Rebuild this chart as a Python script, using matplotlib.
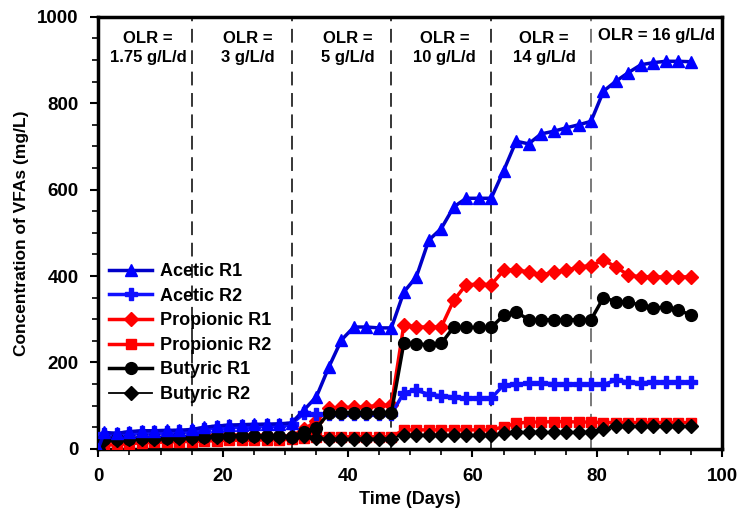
import numpy as np
import matplotlib
matplotlib.use("Agg")
import matplotlib.pyplot as plt
from matplotlib.ticker import MultipleLocator

plt.rcParams['font.family'] = ['Liberation Sans', 'DejaVu Sans']
plt.rcParams['font.weight'] = 'bold'

# sampling days: 0, then every 2 days from 1 to 95
days = [0] + list(range(1, 96, 2))

acetic_r1 = [0, 38, 36, 40, 42, 42, 43, 43, 45, 50, 53, 55, 56, 57, 57, 58,
             60, 90, 121, 190, 252, 282, 282, 280, 280, 363, 398, 483, 510, 560,
             580, 580, 580, 644, 712, 706, 729, 735, 743, 750, 758, 828, 851,
             871, 889, 894, 897, 897, 896]
acetic_r2 = [0, 35, 34, 37, 39, 40, 40, 41, 42, 47, 50, 52, 53, 54, 55, 55,
             58, 82, 80, 80, 80, 80, 80, 80, 80, 130, 136, 126, 123, 120,
             117, 117, 117, 148, 149, 152, 152, 151, 150, 150, 149, 149, 159,
             155, 153, 154, 154, 154, 154]
propionic_r1 = [0, 18, 20, 22, 24, 25, 26, 27, 28, 30, 31, 32, 32, 31, 31, 30,
                30, 45, 65, 94, 96, 96, 97, 101, 101, 287, 282, 282, 282, 344,
                380, 381, 380, 413, 415, 409, 402, 409, 413, 421, 424, 437, 421,
                402, 398, 398, 398, 398, 398]
propionic_r2 = [0, 8, 10, 12, 14, 15, 16, 17, 17, 18, 19, 20, 20, 20, 21, 21,
                22, 26, 28, 28, 28, 28, 28, 28, 28, 44, 44, 44, 44, 44,
                44, 44, 44, 51, 59, 62, 62, 63, 63, 62, 62, 61, 61, 61, 61,
                61, 61, 61, 61]
butyric_r1 = [0, 22, 23, 24, 25, 26, 26, 27, 27, 28, 29, 30, 30, 30, 30, 30,
              28, 40, 48, 83, 84, 84, 84, 84, 84, 245, 243, 241, 244, 282,
              281, 281, 281, 309, 317, 299, 299, 299, 299, 299, 299, 350, 341,
              339, 333, 326, 328, 321, 310]
butyric_r2 = [0, 20, 21, 22, 23, 24, 25, 25, 26, 27, 28, 29, 29, 29, 28, 28,
              27, 30, 25, 23, 23, 23, 24, 24, 24, 33, 33, 33, 33, 33,
              33, 33, 33, 37, 38, 38, 38, 38, 38, 38, 38, 46, 52, 52, 52,
              52, 52, 52, 52]

olr_bounds = [15, 31, 47, 63, 79]
olr_labels = ["OLR =\n1.75 g/L/d", "OLR =\n3 g/L/d", "OLR =\n5 g/L/d",
              "OLR =\n10 g/L/d", "OLR =\n14 g/L/d", "OLR = 16 g/L/d"]
olr_xpos = [8, 24, 40, 55.5, 71.5, 89.5]

fig = plt.figure(figsize=(7.49, 5.25), dpi=100)
ax = fig.add_axes([0.131, 0.145, 0.833, 0.823])

blue_dark = "#0000c8"
blue = "#1010ff"
red = "#ff0000"

ax.plot(days, acetic_r1, color=blue_dark, lw=2.5, marker="^", ms=9,
        mfc="#0000ff", mec="#0000ff", label="Acetic R1", zorder=5)
ax.plot(days, acetic_r2, color=blue, lw=2.5, marker="P", ms=8.5,
        mfc=blue, mec=blue, label="Acetic R2", zorder=4)
ax.plot(days, propionic_r1, color=red, lw=2.5, marker="D", ms=7.5,
        label="Propionic R1", zorder=3)
ax.plot(days, propionic_r2, color=red, lw=2.5, marker="s", ms=7.5,
        label="Propionic R2", zorder=3)
ax.plot(days, butyric_r1, color="black", lw=2.5, marker="o", ms=8.5,
        label="Butyric R1", zorder=4)
ax.plot(days, butyric_r2, color="black", lw=1.3, marker="D", ms=7.5,
        label="Butyric R2", zorder=4)

for i, xb in enumerate(olr_bounds):
    c = "#555555" if i == len(olr_bounds) - 1 else "black"
    ax.axvline(xb, color=c, lw=1.1, ls=(0, (9, 5)), zorder=1)

for lab, xp in zip(olr_labels, olr_xpos):
    yp = 928 if "\n" in lab else 956
    ax.text(xp, yp, lab, ha="center", va="center", fontsize=12,
            fontweight="bold", linespacing=1.35)

ax.set_xlim(0, 100)
ax.set_ylim(0, 1000)
ax.xaxis.set_major_locator(MultipleLocator(20))
ax.xaxis.set_minor_locator(MultipleLocator(5))
ax.yaxis.set_major_locator(MultipleLocator(200))
ax.yaxis.set_minor_locator(MultipleLocator(50))
ax.tick_params(which="major", length=6, width=1.5, direction="out",
               labelsize=13.5, pad=8)
ax.tick_params(which="minor", length=4, width=1.2, direction="out")
for lab in ax.get_xticklabels() + ax.get_yticklabels():
    lab.set_fontweight("bold")
for sp in ax.spines.values():
    sp.set_linewidth(2.5)

ax.set_xlabel("Time (Days)", fontsize=13, fontweight="bold", labelpad=4)
ax.set_ylabel("Concentration of VFAs (mg/L)", fontsize=12.5,
              fontweight="bold", labelpad=6)

leg = ax.legend(loc="upper left", bbox_to_anchor=(0.0, 0.455), frameon=False,
                fontsize=13, handlelength=2.4, labelspacing=0.42,
                handletextpad=0.45, borderaxespad=0.2)
for t in leg.get_texts():
    t.set_fontweight("bold")

fig.savefig("out.png", dpi=100)
